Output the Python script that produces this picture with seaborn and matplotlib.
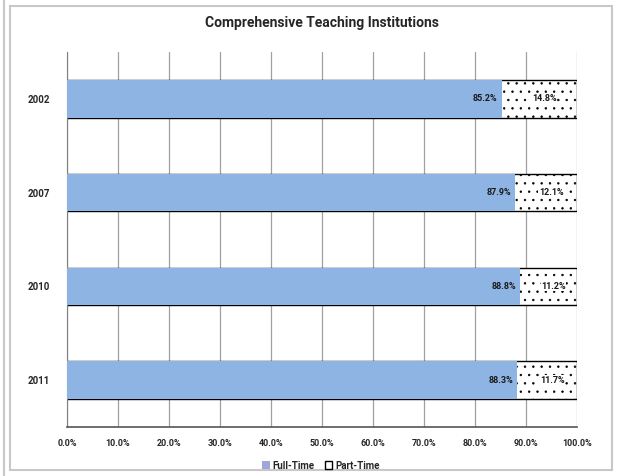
import matplotlib
matplotlib.use("Agg")
import matplotlib.pyplot as plt
from matplotlib.patches import Rectangle, Patch
import seaborn as sns
import pandas as pd

# ===== data =====
years = ["2002", "2007", "2010", "2011"]
full_time = [85.2, 87.9, 88.8, 88.3]
part_time = [14.8, 12.1, 11.2, 11.7]
x_ticks = [0, 10, 20, 30, 40, 50, 60, 70, 80, 90, 100]

BLUE = "#8db4e2"

sns.set_style("white")
plt.rcParams["font.family"] = ["Roboto", "DejaVu Sans"]
plt.rcParams["hatch.linewidth"] = 0.5

df = pd.DataFrame({"year": years, "full": full_time, "part": part_time})
df["total"] = df["full"] + df["part"]

fig = plt.figure(figsize=(6.17, 4.76), dpi=100)
ax = fig.add_axes([0.1086, 0.103, 0.8266, 0.788])

# outer chart frame
fig.patches.append(Rectangle((0.017, 0.012), 0.975, 0.975, transform=fig.transFigure,
                             fill=False, edgecolor="#c8c8c8", linewidth=1.5))
fig.add_artist(plt.Line2D([0.006, 0.006], [0.0, 1.0], color="#c8c8c8", linewidth=1.5))

# part-time (stacked behind), then full-time on top
sns.barplot(data=df, x="total", y="year", orient="h", color="white", width=0.4,
            saturation=1, edgecolor="black", linewidth=1.0, hatch="..", ax=ax, zorder=2)
sns.barplot(data=df, x="full", y="year", orient="h", color=BLUE, width=0.4,
            saturation=1, edgecolor=BLUE, linewidth=0, ax=ax, zorder=3)

for i, (f, p) in enumerate(zip(full_time, part_time)):
    ax.text(f - 0.8, i, f"{f:.1f}%", ha="right", va="center", fontsize=6.5,
            fontweight="bold", color="#1a1a1a", zorder=5)
    ax.text(f + p / 2 + 1.0, i, f"{p:.1f}%", ha="center", va="center", fontsize=6.5,
            fontweight="bold", color="#1a1a1a", zorder=5,
            bbox=dict(facecolor="white", edgecolor="none", pad=0.3))

ax.set_xlim(0, 100)
ax.set_ylim(3.5, -0.5)
ax.set_xticks(x_ticks)
ax.set_xticklabels([f"{t:.1f}%" for t in x_ticks], fontsize=6.5, fontweight="bold")
ax.set_yticks(range(len(years)))
ax.set_yticklabels(years, fontsize=7, fontweight="bold")
ax.set_xlabel("")
ax.set_ylabel("")
ax.grid(axis="x", color="#a0a0a0", linewidth=0.9, zorder=0)
ax.set_axisbelow(True)
for s in ["top", "right"]:
    ax.spines[s].set_visible(False)
ax.spines["left"].set_color("#7f7f7f")
ax.spines["bottom"].set_color("#555555")
ax.spines["bottom"].set_linewidth(1.2)
ax.tick_params(axis="both", length=0, pad=9)
ax.tick_params(axis="y", pad=12)
# minor ticks between categories on the left spine
ax.set_yticks([0.5, 1.5, 2.5], minor=True)
ax.tick_params(axis="y", which="minor", length=4, color="#7f7f7f")

ax.set_title("Comprehensive Teaching Institutions", fontsize=10, fontweight="bold", pad=18)

handles = [Patch(facecolor="#a0a6d8", edgecolor="none", label="Full-Time"),
           Patch(facecolor="white", edgecolor="black", label="Part-Time")]
leg = fig.legend(handles=handles, loc="center", bbox_to_anchor=(0.52, 0.022), ncol=2,
                 frameon=False, prop={"size": 7, "weight": "bold"}, handlelength=0.8,
                 handleheight=0.8, handletextpad=0.3, columnspacing=1.0)

fig.savefig("out.png", dpi=100)
